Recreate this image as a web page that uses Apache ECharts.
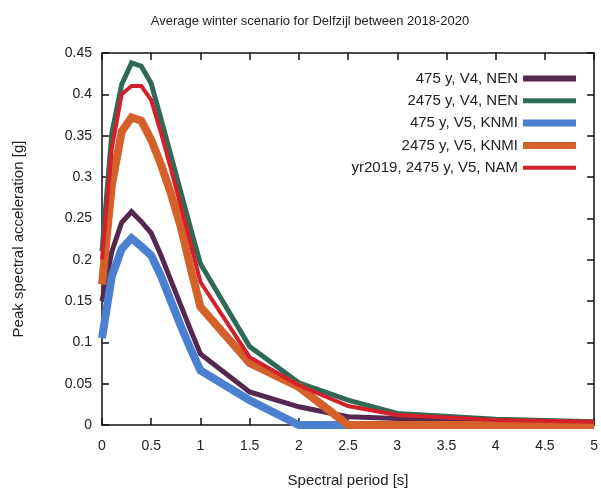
<!DOCTYPE html>
<html><head><meta charset="utf-8">
<script src="https://cdn.jsdelivr.net/npm/echarts@6/dist/echarts.min.js"></script>
<style>html,body{margin:0;padding:0;background:#fff}#c{width:601px;height:493px}</style>
</head><body><div id="c"></div>
<script>
const periods = [0, 0.1, 0.2, 0.3, 0.4, 0.5, 0.6, 0.7, 0.8, 0.9, 1, 1.5, 2, 2.5, 3, 4, 5];
const nen475 = [0.15, 0.21, 0.245, 0.258, 0.246, 0.232, 0.205, 0.175, 0.145, 0.115, 0.086, 0.04, 0.022, 0.01, 0.008, 0.005, 0.003];
const nen2475 = [0.21, 0.353, 0.412, 0.438, 0.434, 0.413, 0.37, 0.326, 0.282, 0.238, 0.195, 0.095, 0.051, 0.03, 0.014, 0.007, 0.004];
const knmi475 = [0.105, 0.18, 0.213, 0.226, 0.216, 0.205, 0.18, 0.15, 0.12, 0.092, 0.066, 0.03, 0, 0, 0, 0, 0];
const knmi2475 = [0.17, 0.29, 0.355, 0.372, 0.368, 0.345, 0.315, 0.28, 0.24, 0.19, 0.143, 0.075, 0.046, 0, 0, 0, 0];
const nam2475 = [0.2, 0.335, 0.4, 0.41, 0.41, 0.393, 0.353, 0.31, 0.265, 0.22, 0.173, 0.082, 0.048, 0.023, 0.012, 0.006, 0.004];
const xTicks = [0, 0.5, 1, 1.5, 2, 2.5, 3, 3.5, 4, 4.5, 5];

const seriesDefs = [
  {name: '475 y, V4, NEN', data: nen475, color: '#56284f', w: 5, lh: 6},
  {name: '2475 y, V4, NEN', data: nen2475, color: '#2f6a54', w: 5, lh: 5},
  {name: '475 y, V5, KNMI', data: knmi475, color: '#4a80cf', w: 8, lh: 7},
  {name: '2475 y, V5, KNMI', data: knmi2475, color: '#d4612a', w: 8, lh: 7},
  {name: 'yr2019, 2475 y, V5, NAM', data: nam2475, color: '#d3202a', w: 4, lh: 4}
];
const font = 'Liberation Sans, Arial, sans-serif';
const chart = echarts.init(document.getElementById('c'));
const axisCommon = {
  type: 'value',
  axisLine: {show: true, onZero: false, lineStyle: {color: '#111', width: 1.5}},
  axisTick: {show: true, inside: true, length: 7, lineStyle: {color: '#111', width: 1.5}},
  splitLine: {show: false}
};
chart.setOption({
  animation: false,
  title: {text: 'Average winter scenario for Delfzijl between 2018-2020', left: 305, top: 10, textAlign: 'center',
    textStyle: {fontFamily: font, fontSize: 13, fontWeight: 'normal', color: '#222'}},
  grid: {left: 102, right: 3, top: 53, bottom: 68},
  xAxis: [
    Object.assign({}, axisCommon, {min: 0, max: 5, interval: 0.5, position: 'bottom',
      name: 'Spectral period [s]', nameLocation: 'middle', nameGap: 48,
      nameTextStyle: {fontFamily: font, fontSize: 15, color: '#222'},
      axisLabel: {fontFamily: font, fontSize: 14, color: '#222', margin: 14,
        formatter: v => xTicks.includes(v) ? String(v) : ''}}),
    Object.assign({}, axisCommon, {min: 0, max: 5, interval: 0.5, position: 'top', axisLabel: {show: false}})
  ],
  yAxis: [
    Object.assign({}, axisCommon, {min: 0, max: 0.45, interval: 0.05, position: 'left',
      name: 'Peak spectral acceleration [g]', nameLocation: 'middle', nameGap: 76,
      nameTextStyle: {fontFamily: font, fontSize: 15, color: '#222'},
      axisLabel: {fontFamily: font, fontSize: 14, color: '#222', margin: 10,
        formatter: v => String(Math.round(v * 100) / 100)}}),
    Object.assign({}, axisCommon, {min: 0, max: 0.45, interval: 0.05, position: 'right', axisLabel: {show: false}})
  ],
  legend: seriesDefs.map((s, i) => ({
    data: [s.name], right: 20, top: 66 + i * 22.3, align: 'right', orient: 'vertical',
    itemWidth: 53, itemHeight: s.lh, itemGap: 9, icon: 'rect', selectedMode: false,
    textStyle: {fontFamily: font, fontSize: 15, color: '#222'}
  })),
  series: seriesDefs.map(s => ({
    name: s.name, type: 'line', showSymbol: false, symbol: 'none',
    data: periods.map((p, j) => [p, s.data[j]]),
    lineStyle: {color: s.color, width: s.w, join: 'miter'},
    itemStyle: {color: s.color}
  }))
});
</script></body></html>
